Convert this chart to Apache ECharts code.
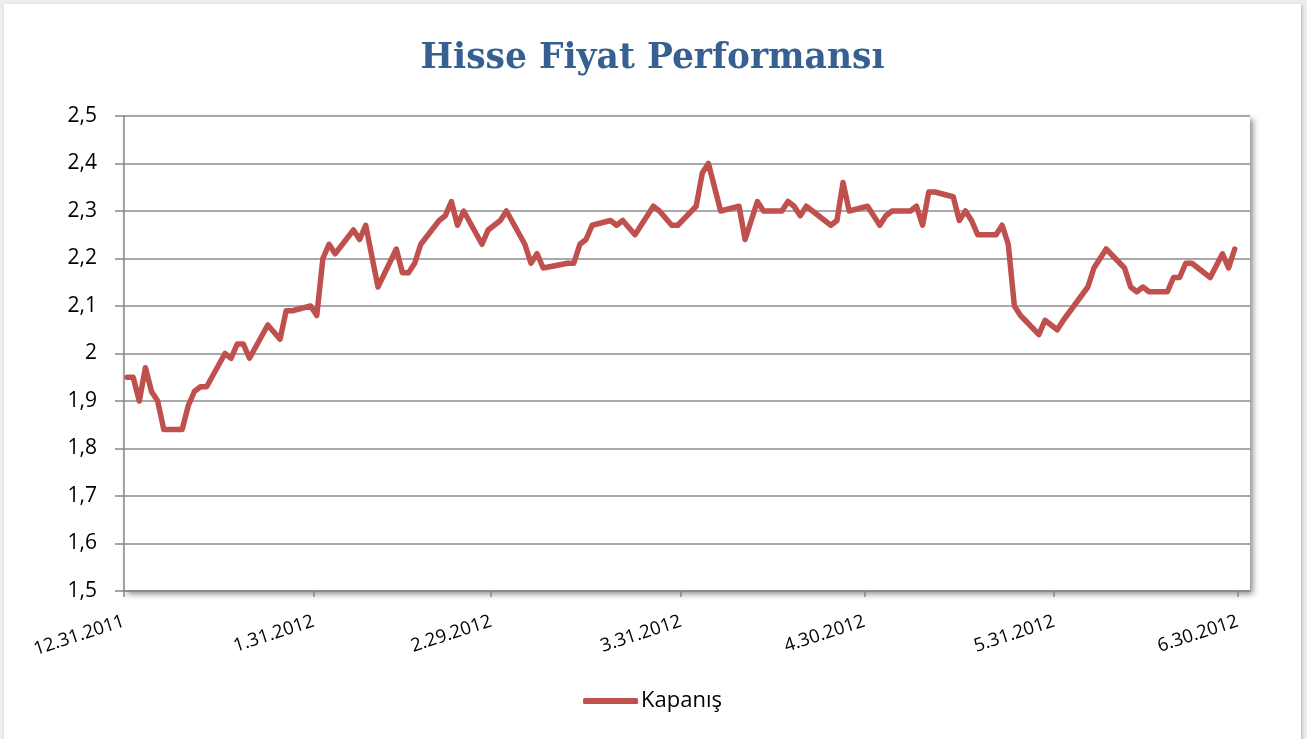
<!DOCTYPE html>
<html>
<head>
<meta charset="utf-8">
<title>Hisse Fiyat Performansı</title>
<script src="https://cdn.jsdelivr.net/npm/echarts@6.0.0/dist/echarts.min.js"></script>
<style>
  html, body { margin: 0; padding: 0; background: #ededed; overflow: hidden; }
  #chart {
    position: absolute; left: 4px; top: 4px;
    width: 1297px; height: 740px;
    background: #fff;
    box-shadow: 1px 1px 3px rgba(0,0,0,0.25);
  }
</style>
</head>
<body>
<div id="chart"></div>
<script>
// x ekseni etiketleri (ay sonları)
var tickLabels = ['12.31.2011', '1.31.2012', '2.29.2012', '3.31.2012', '4.30.2012', '5.31.2012', '6.30.2012']

// kapanış fiyatları - grafikteki kırılma noktaları
var dates = [
    '2011-12-31', '2012-01-01', '2012-01-02', '2012-01-03', '2012-01-04', '2012-01-05', '2012-01-06',
    '2012-01-09', '2012-01-10', '2012-01-11', '2012-01-12', '2012-01-13',
    '2012-01-16', '2012-01-17', '2012-01-18', '2012-01-19', '2012-01-20',
    '2012-01-23', '2012-01-25', '2012-01-26', '2012-01-27',
    '2012-01-30', '2012-01-31', '2012-02-01', '2012-02-02', '2012-02-03',
    '2012-02-06', '2012-02-07', '2012-02-08', '2012-02-10',
    '2012-02-13', '2012-02-14', '2012-02-15', '2012-02-16', '2012-02-17',
    '2012-02-20', '2012-02-21', '2012-02-22', '2012-02-23', '2012-02-24',
    '2012-02-27', '2012-02-28', '2012-03-01', '2012-03-02',
    '2012-03-05', '2012-03-06', '2012-03-07', '2012-03-08',
    '2012-03-12', '2012-03-13', '2012-03-14', '2012-03-15', '2012-03-16',
    '2012-03-19', '2012-03-20', '2012-03-21', '2012-03-23',
    '2012-03-26', '2012-03-27', '2012-03-29', '2012-03-30',
    '2012-04-02', '2012-04-03', '2012-04-04', '2012-04-06',
    '2012-04-09', '2012-04-10', '2012-04-12', '2012-04-13',
    '2012-04-16', '2012-04-17', '2012-04-18', '2012-04-19', '2012-04-20',
    '2012-04-24', '2012-04-25', '2012-04-26', '2012-04-27',
    '2012-04-30', '2012-05-02', '2012-05-03', '2012-05-04',
    '2012-05-07', '2012-05-08', '2012-05-09', '2012-05-10', '2012-05-11',
    '2012-05-14', '2012-05-15', '2012-05-16', '2012-05-17', '2012-05-18',
    '2012-05-21', '2012-05-22', '2012-05-23', '2012-05-24', '2012-05-25',
    '2012-05-28', '2012-05-29', '2012-05-31', '2012-06-01',
    '2012-06-05', '2012-06-06', '2012-06-08',
    '2012-06-11', '2012-06-12', '2012-06-13', '2012-06-14', '2012-06-15',
    '2012-06-18', '2012-06-19', '2012-06-20', '2012-06-21', '2012-06-22',
    '2012-06-25', '2012-06-27', '2012-06-28', '2012-06-29'
]
var closes = [
    1.95, 1.95, 1.90, 1.97, 1.92, 1.90, 1.84,
    1.84, 1.89, 1.92, 1.93, 1.93,
    2.00, 1.99, 2.02, 2.02, 1.99,
    2.06, 2.03, 2.09, 2.09,
    2.10, 2.08, 2.20, 2.23, 2.21,
    2.26, 2.24, 2.27, 2.14,
    2.22, 2.17, 2.17, 2.19, 2.23,
    2.28, 2.29, 2.32, 2.27, 2.30,
    2.23, 2.26, 2.28, 2.30,
    2.23, 2.19, 2.21, 2.18,
    2.19, 2.19, 2.23, 2.24, 2.27,
    2.28, 2.27, 2.28, 2.25,
    2.31, 2.30, 2.27, 2.27,
    2.31, 2.38, 2.40, 2.30,
    2.31, 2.24, 2.32, 2.30,
    2.30, 2.32, 2.31, 2.29, 2.31,
    2.27, 2.28, 2.36, 2.30,
    2.31, 2.27, 2.29, 2.30,
    2.30, 2.31, 2.27, 2.34, 2.34,
    2.33, 2.28, 2.30, 2.28, 2.25,
    2.25, 2.27, 2.23, 2.10, 2.08,
    2.04, 2.07, 2.05, 2.07,
    2.14, 2.18, 2.22,
    2.18, 2.14, 2.13, 2.14, 2.13,
    2.13, 2.16, 2.16, 2.19, 2.19,
    2.16, 2.21, 2.18, 2.22
]

var BASE = Date.UTC(2011, 11, 31)
function dayOf(y, m, d) { return (Date.UTC(y, m - 1, d) - BASE) / 86400000 }
function isoDay(s) { var p = s.split('-'); return dayOf(+p[0], +p[1], +p[2]) }
function labelDay(s) { var p = s.split('.'); return dayOf(+p[2], +p[0], +p[1]) }

var tickDays = tickLabels.map(labelDay)
var labelByDay = {}
tickDays.forEach(function (d, i) { labelByDay[d] = tickLabels[i] })

// Excel tarih ekseni: nokta gün ortasına düşer
var seriesData = dates.map(function (s, i) { return [isoDay(s) + 0.5, closes[i]] })

var FONT = '"Open Sans", "Liberation Sans", sans-serif'

var myChart = echarts.init(document.getElementById('chart'))
myChart.setOption({
    animation: false,
    title: {
        text: 'Hisse Fiyat Performansı',
        left: 'center',
        top: 33,
        textStyle: {
            fontFamily: '"DejaVu Serif", "Liberation Serif", serif',
            fontWeight: 'bold',
            fontSize: 34.5,
            color: '#376092'
        }
    },
    legend: {
        bottom: 27,
        left: 'center',
        itemWidth: 55,
        itemHeight: 6,
        itemGap: 10,
        icon: 'roundRect',
        textStyle: { fontFamily: FONT, fontSize: 22, color: '#000', padding: [0, 0, 0, -2] },
        data: ['Kapanış']
    },
    grid: {
        left: 120,
        right: 51,
        top: 112,
        bottom: 153,
        show: true,
        backgroundColor: '#fff',
        borderWidth: 0,
        shadowColor: 'rgba(0,0,0,0.45)',
        shadowBlur: 6,
        shadowOffsetX: 3,
        shadowOffsetY: 3
    },
    xAxis: {
        type: 'value',
        min: tickDays[0],
        max: tickDays[tickDays.length - 1] + 2,
        splitLine: { show: false },
        axisLine: { show: true, lineStyle: { color: '#868686', width: 1.5 } },
        axisTick: {
            show: true, length: 6, customValues: tickDays,
            lineStyle: { color: '#868686', width: 1.5 }
        },
        axisLabel: {
            customValues: tickDays,
            rotate: 18,
            margin: 30,
            fontFamily: FONT,
            fontSize: 18.5,
            color: '#000',
            formatter: function (v) { return labelByDay[Math.round(v)] || '' }
        }
    },
    yAxis: {
        type: 'value',
        min: 1.5,
        max: 2.5,
        interval: 0.1,
        axisLine: { show: true, lineStyle: { color: '#868686', width: 1.5 } },
        axisTick: { show: true, length: 9, lineStyle: { color: '#868686', width: 1.5 } },
        splitLine: { show: true, lineStyle: { color: '#8c8c8c', width: 1.5 } },
        axisLabel: {
            margin: 27,
            fontFamily: FONT,
            fontSize: 21,
            color: '#000',
            formatter: function (v) {
                return String(Math.round(v * 10) / 10).replace('.', ',')
            }
        }
    },
    series: [{
        name: 'Kapanış',
        type: 'line',
        data: seriesData,
        showSymbol: false,
        symbol: 'none',
        color: '#C0504D',
        lineStyle: { color: '#C0504D', width: 5.5, cap: 'round', join: 'round' }
    }]
})
</script>
</body>
</html>
